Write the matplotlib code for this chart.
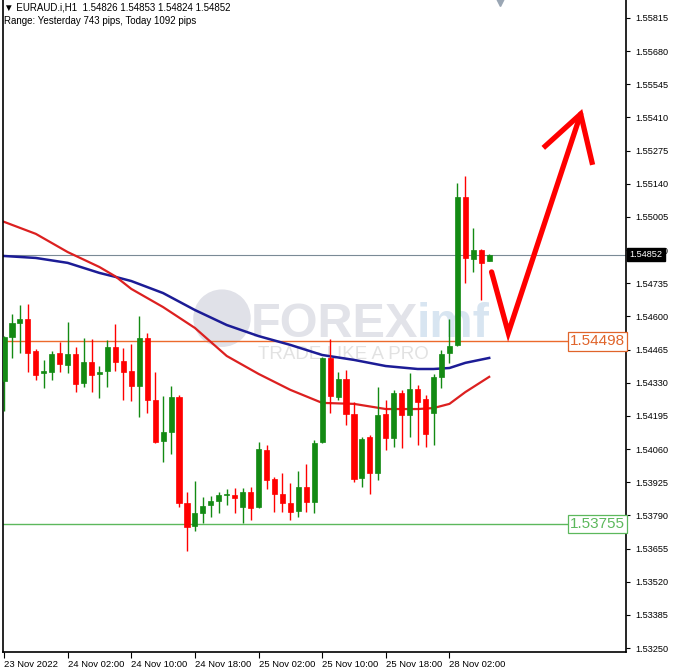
import numpy as np
import matplotlib.pyplot as plt
from matplotlib.patches import Ellipse

plt.rcParams['font.family'] = ['Liberation Sans', 'DejaVu Sans']

# EURAUD H1 bars, first bar = 23 Nov 18:00
opens = [1.54337, 1.54516, 1.54573, 1.54590, 1.54459, 1.54370, 1.54374, 1.54451, 1.54402, 1.54447,
         1.54329, 1.54415, 1.54366, 1.54378, 1.54476, 1.54419, 1.54378, 1.54317, 1.54512, 1.54260,
         1.54093, 1.54130, 1.54272, 1.53841, 1.53747, 1.53800, 1.53832, 1.53849, 1.53873, 1.53873,
         1.53824, 1.53885, 1.53824, 1.54056, 1.53938, 1.53877, 1.53841, 1.53808, 1.53906, 1.53845,
         1.54089, 1.54431, 1.54272, 1.54345, 1.54203, 1.53942, 1.54109, 1.53963, 1.54203, 1.54105,
         1.54288, 1.54199, 1.54305, 1.54264, 1.54207, 1.54354, 1.54451, 1.54484, 1.55086, 1.54834,
         1.54871, 1.54826]
highs = [1.54520, 1.54610, 1.54647, 1.54651, 1.54468, 1.54423, 1.54459, 1.54496, 1.54577, 1.54476,
         1.54512, 1.54508, 1.54398, 1.54504, 1.54569, 1.54472, 1.54488, 1.54602, 1.54533, 1.54374,
         1.54276, 1.54317, 1.54280, 1.53885, 1.53930, 1.53865, 1.53869, 1.53885, 1.53898, 1.53902,
         1.53902, 1.53906, 1.54089, 1.54077, 1.53946, 1.53963, 1.53922, 1.53971, 1.53999, 1.54097,
         1.54435, 1.54508, 1.54374, 1.54382, 1.54252, 1.54109, 1.54117, 1.54313, 1.54260, 1.54301,
         1.54301, 1.54370, 1.54321, 1.54280, 1.54366, 1.54463, 1.54590, 1.55143, 1.55172, 1.54960,
         1.54875, 1.54853]
lows = [1.54215, 1.54431, 1.54451, 1.54374, 1.54341, 1.54309, 1.54341, 1.54374, 1.54370, 1.54292,
        1.54313, 1.54292, 1.54268, 1.54313, 1.54378, 1.54260, 1.54256, 1.54191, 1.54207, 1.54085,
        1.54007, 1.54040, 1.53824, 1.53645, 1.53727, 1.53759, 1.53784, 1.53800, 1.53832, 1.53800,
        1.53759, 1.53771, 1.53820, 1.53898, 1.53804, 1.53804, 1.53771, 1.53784, 1.53804, 1.53800,
        1.54085, 1.54207, 1.54260, 1.54158, 1.53926, 1.53906, 1.53877, 1.53934, 1.54056, 1.54069,
        1.54064, 1.54109, 1.54077, 1.54069, 1.54077, 1.54309, 1.54410, 1.54480, 1.54736, 1.54781,
        1.54667, 1.54824]
closes = [1.54516, 1.54573, 1.54590, 1.54451, 1.54362, 1.54378, 1.54447, 1.54406, 1.54447, 1.54325,
          1.54415, 1.54362, 1.54374, 1.54476, 1.54415, 1.54374, 1.54317, 1.54512, 1.54260, 1.54089,
          1.54130, 1.54272, 1.53841, 1.53743, 1.53800, 1.53828, 1.53849, 1.53873, 1.53877, 1.53861,
          1.53885, 1.53820, 1.54060, 1.53934, 1.53877, 1.53841, 1.53804, 1.53906, 1.53845, 1.54085,
          1.54431, 1.54276, 1.54345, 1.54203, 1.53938, 1.54101, 1.53963, 1.54199, 1.54105, 1.54288,
          1.54199, 1.54305, 1.54252, 1.54121, 1.54354, 1.54447, 1.54480, 1.55086, 1.54838, 1.54871,
          1.54818, 1.54852]

# moving averages at some bars
ma_idx = [0, 4, 8, 12, 14, 16, 20, 24, 28, 32, 36, 40, 44, 48, 52, 54, 56, 58, 61]
ma_blue = [1.54846, 1.54838, 1.54818, 1.54777, 1.54761, 1.54744, 1.54695, 1.54626, 1.54565,
           1.54520, 1.54484, 1.54443, 1.54423, 1.54398, 1.54386, 1.54386, 1.54390, 1.54411, 1.54431]
ma_red = [1.54985, 1.54936, 1.54862, 1.54801, 1.54763, 1.54712, 1.54638, 1.54553, 1.54439,
          1.54366, 1.54301, 1.54248, 1.54244, 1.54223, 1.54223, 1.54227, 1.54244, 1.54292, 1.54354]

tick_bars = [0, 8, 16, 24, 32, 40, 48, 56]
tick_labels = ['23 Nov 2022', '24 Nov 02:00', '24 Nov 10:00', '24 Nov 18:00',
               '25 Nov 02:00', '25 Nov 10:00', '25 Nov 18:00', '28 Nov 02:00']
price_ticks = [1.53250, 1.53385, 1.53520, 1.53655, 1.53790, 1.53925, 1.54060, 1.54195, 1.54330,
               1.54465, 1.54600, 1.54735, 1.54870, 1.55005, 1.55140, 1.55275, 1.55410, 1.55545,
               1.55680, 1.55815]

last_price = 1.54852
resistance = 1.54498
support = 1.53755

# hand drawn red arrow (bar, price)
arrow_x = [61.3, 63.4, 72.5]
arrow_y = [1.54781, 1.54533, 1.55424]
head_x = [67.8, 72.5, 74.0]
head_y = [1.55286, 1.55424, 1.55217]

fig = plt.figure(figsize=(6.73, 6.69), dpi=100)
ax = fig.add_axes([3 / 673, 17 / 669, 623 / 673, 652 / 669])
ax.set_xlim(-0.13, 78.2)
ax.set_ylim(1.53234, 1.55888)

# watermark
ax.add_patch(Ellipse((0.3515, 0.512), 0.09, 0.086, transform=ax.transAxes,
                     color='#e0e1e8', zorder=0.5))
ax.text(0.397, 0.502, 'FOREX', transform=ax.transAxes, fontsize=35, fontweight='bold',
        color='#e2e3e9', ha='left', va='center', zorder=0.6)
ax.text(0.664, 0.502, 'imf', transform=ax.transAxes, fontsize=35, fontweight='bold',
        color='#d8e5f1', ha='left', va='center', zorder=0.6)
ax.text(0.409, 0.457, 'TRADE LIKE A PRO', transform=ax.transAxes, fontsize=13.5,
        color='#e2e2e2', ha='left', va='center', zorder=0.6)

# level lines
ax.axhline(last_price, color='#7a8a96', lw=0.8, zorder=1)
ax.axhline(resistance, color='#ec6a2c', lw=1.0, zorder=1)
ax.axhline(support, color='#5cb85c', lw=1.0, zorder=1)

# moving averages
ax.plot(ma_idx, ma_blue, color='#1c1c96', lw=1.8, zorder=2)
ax.plot(ma_idx, ma_red, color='#dc2020', lw=1.6, zorder=2)

# candles
x = np.arange(len(opens))
o = np.array(opens)
c = np.array(closes)
cols = np.where(c >= o, '#138a13', '#ff0000')
ax.vlines(x, lows, highs, colors=cols, lw=1.0, zorder=3)
bottoms = np.minimum(o, c)
heights = np.maximum(np.abs(c - o), 0.00002)
ax.bar(x, heights, bottom=bottoms, width=0.64, color=cols, edgecolor=cols, lw=0.5, zorder=4)

# red arrow
ax.plot(arrow_x, arrow_y, color='#ff0000', lw=3.8, solid_capstyle='round',
        solid_joinstyle='miter', zorder=5)
ax.plot(head_x, head_y, color='#ff0000', lw=3.8, solid_capstyle='butt',
        solid_joinstyle='miter', zorder=5)

# axes styling
ax.spines['top'].set_visible(False)
for s in ['left', 'right', 'bottom']:
    ax.spines[s].set_linewidth(1.2)
ax.yaxis.tick_right()
ax.set_yticks(price_ticks)
ax.set_yticklabels(['%.5f' % p for p in price_ticks])
ax.tick_params(axis='y', direction='out', length=3, width=0.8, labelsize=6.6, pad=4)
ax.set_xticks(tick_bars)
ax.set_xticklabels(tick_labels, ha='left')
ax.tick_params(axis='x', direction='out', length=4, width=0.8, labelsize=6.8, pad=2)

# level labels
ax.text(0.9985, resistance, '%.5f' % resistance, transform=ax.get_yaxis_transform(),
        ha='right', va='center', fontsize=11, color='#e0642a', zorder=6,
        bbox=dict(boxstyle='square,pad=0.15', fc='white', ec='#e0642a', lw=0.9))
ax.text(0.9985, support, '%.5f' % support, transform=ax.get_yaxis_transform(),
        ha='right', va='center', fontsize=11, color='#5cb85c', zorder=6,
        bbox=dict(boxstyle='square,pad=0.15', fc='white', ec='#5cb85c', lw=0.9))
ax.text(1.006, last_price, '%.5f' % last_price, transform=ax.get_yaxis_transform(),
        ha='left', va='center', fontsize=6.6, color='white', zorder=6, clip_on=False,
        bbox=dict(boxstyle='square,pad=0.25', fc='black', ec='black'))

# shift marker at top
ax.plot([(500 - 3) / 623], [1.0], marker='v', markersize=8, color='#9aa6b4',
        transform=ax.transAxes, clip_on=False, zorder=6)

fig.text(4 / 673, 1 - 8 / 669, '\u25bc EURAUD.i,H1  1.54826 1.54853 1.54824 1.54852',
         fontsize=7, va='center', ha='left')
fig.text(4 / 673, 1 - 21 / 669, 'Range: Yesterday 743 pips, Today 1092 pips',
         fontsize=7, va='center', ha='left')

fig.savefig('out.png', dpi=100, facecolor='white')
